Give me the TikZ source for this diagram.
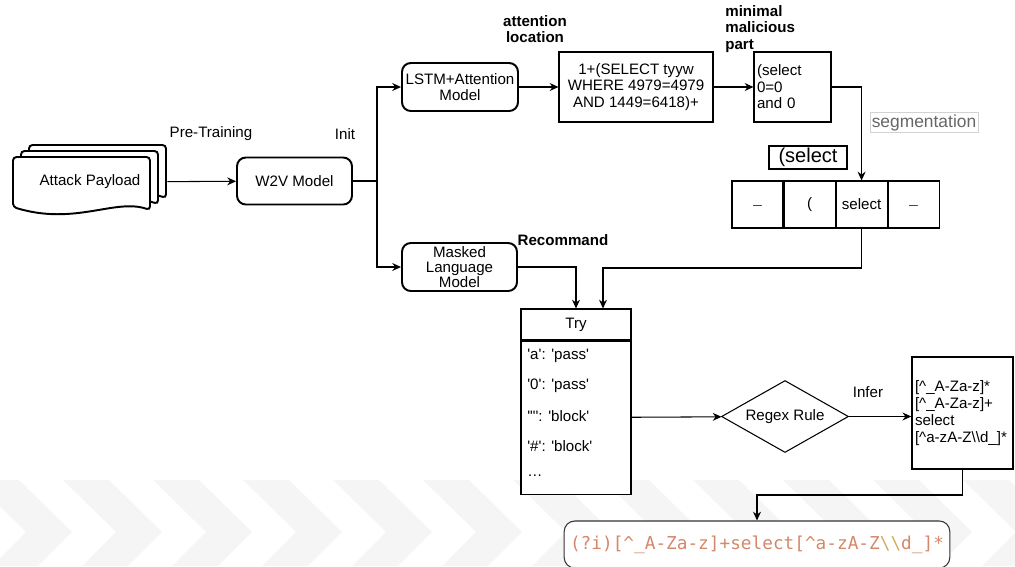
\documentclass[tikz,border=0pt]{standalone}
\usepackage{fontspec}
\setmainfont{Liberation Sans}[Ligatures=TeXOff]
\setmonofont{DejaVu Sans Mono}
\usetikzlibrary{positioning,arrows.meta,shapes.geometric}
\definecolor{chev}{HTML}{F5F5F5}
\definecolor{regexfg}{HTML}{D4876A}
\definecolor{escfg}{HTML}{CFAE5E}
\definecolor{seggray}{HTML}{666666}

\begin{document}
\begin{tikzpicture}[x=0.02cm,y=-0.02cm,
        txt/.style={font=\fontsize{8.6}{9.4}\selectfont},
        lbl/.style={font=\fontsize{8.6}{9.4}\selectfont\bfseries},
        model/.style={txt,draw,line width=1.1pt,rounded corners=5pt,fill=white,align=center,inner sep=0pt},
        box/.style={txt,draw,line width=0.6pt,fill=white,inner sep=0pt},
        cell/.style={box,minimum width=1.02cm,minimum height=0.94cm},
        arr/.style={-{Stealth[length=5pt,width=4.5pt]},line width=0.6pt}]
        \useasboundingbox (0,0) rectangle (1015,566);

        % background chevrons
        \begin{scope}
        \clip (0,0) rectangle (1015,566);
        \foreach \a in {-27,63,...,1053}
        {
            \fill[chev] (\a,480) -- (\a+46,480) -- (\a+99,532) -- (\a+65,566) -- (\a+19,566) -- (\a+53,532) -- cycle;
        }
        \end{scope}

        % payload stack
        \foreach \dx/\dy in {16/-12, 8/-6, 0/0}
        {
            \draw[line width=1.1pt,fill=white,rounded corners=2pt,shift={(\dx,\dy)}]
                (150,210) .. controls (115,198) and (75,226) .. (13,207) -- (13,157) -- (150,157) -- cycle;
        }
        \node[txt,minimum width=3.08cm,inner sep=0pt] (payload) at (90,182) {Attack Payload};

        % models
        \node[model,minimum width=2.3cm,minimum height=0.94cm] (w2v) at (294.5,181) {W2V Model};
        \coordinate (split) at (377,181);
        \node[model,minimum width=2.32cm,minimum height=0.96cm] (lstm) at (460,87) {LSTM+Attention\\Model};
        \node[model,minimum width=2.3cm,minimum height=0.96cm,font=\fontsize{8.6}{8.5}\selectfont] (mlm) at (459.5,267) {Masked\\Language\\Model};

        % attention path
        \node[box,minimum width=3.08cm,minimum height=1.4cm,align=center] (att) at (636,87) {1+(SELECT tyyw\\WHERE 4979=4979\\AND 1449=6418)+};
        \node[box,minimum width=1.54cm,minimum height=1.4cm,text width=1.42cm,align=left] (minpart) at (792.5,87) {(select\\0=0\\and 0};

        % segmentation
        \node[cell] (seg1) at (757.5,204.5) {\textcolor{darkgray}{\_}};
        \node[cell,right=0pt of seg1] (seg2) {(};
        \node[cell,right=0pt of seg2] (seg3) {select};
        \node[cell,right=0pt of seg3] (seg4) {\textcolor{darkgray}{\_}};
        \node[box,font=\fontsize{11.4}{12}\selectfont,minimum width=1.56cm,minimum height=0.46cm] (selectlbl) at (808,157.5) {(select};
        \node[font=\fontsize{9.9}{11}\selectfont,text=seggray,draw=lightgray!70,inner sep=1pt] (seglbl) at (924,122.5) {segmentation};

        % try table
        \node[box,minimum width=2.2cm,minimum height=0.62cm] (tryhead) at (576,324.5) {Try};
        \node[box,minimum width=2.2cm,minimum height=3.06cm,below=0pt of tryhead] (trybody) {};
        \foreach \t [count=\i] in {'a': 'pass', '0': 'pass', '"': 'block', '\#': 'block', {\ldots}}
        {
            \node[txt,anchor=west,inner sep=0pt] (try\i) at (527,{356+30*(\i-1)}) {\t};
        }

        % rule inference
        \node[txt,draw,diamond,aspect=1.64,minimum width=2.54cm,minimum height=1.44cm,inner sep=1pt,fill=white,line width=0.6pt] (regex) at (785,416.5) {Regex Rule};
        \node[box,line width=0.8pt,minimum width=2.02cm,minimum height=2.24cm,text width=1.9cm,align=left,font=\fontsize{8.6}{9.7}\selectfont] (rule) at (962.5,413)
            {{[}\textasciicircum\_A-Za-z]*\\{[}\textasciicircum\_A-Za-z]+\\select\\{[}\textasciicircum a-zA-Z\textbackslash\textbackslash d\_]*};
        \node[draw=black!80,rounded corners=6pt,fill=white,line width=0.6pt,minimum width=7.64cm,minimum height=0.94cm,
            font=\ttfamily\fontsize{10.1}{12}\selectfont,text=regexfg] (final) at (757,544.5)
            {(?i)[\textasciicircum\_A-Za-z]+select[\textasciicircum a-zA-Z\textcolor{escfg}{\textbackslash\textbackslash}d\_]*};

        % labels
        \node[txt] (pretrain) at (211,134) {Pre-Training};
        \node[txt] (init) at (345,134) {Init};
        \node[lbl,align=center] (attlbl) at (535,29) {attention\\location};
        \node[lbl,align=left,anchor=west,inner sep=0pt] (minlbl) at (725,29) {minimal\\malicious\\part};
        \node[lbl] (recommand) at (563,240) {Recommand};
        \node[txt] (infer) at (868,392) {Infer};

        % connectors
        \coordinate (segturn) at (603,268);
        \coordinate (bend) at (757,495);
        \draw[arr] (payload) -- (w2v);
        \draw[line width=0.6pt] (w2v) -- (split);
        \draw[arr] (split) |- (lstm);
        \draw[arr] (split) |- (mlm);
        \draw[arr] (lstm) -- (att);
        \draw[arr] (att) -- (minpart);
        \draw[arr] (minpart) -| (seg3);
        \draw[arr] (mlm) -| (tryhead.north);
        \draw[arr] (seg3) |- (segturn) -- (segturn |- tryhead.north);
        \draw[arr] (trybody) -- (regex);
        \draw[arr] (regex) -- (regex -| rule.west);
        \draw[arr] (rule) |- (bend) -- (final.north);
\end{tikzpicture}
\end{document}
